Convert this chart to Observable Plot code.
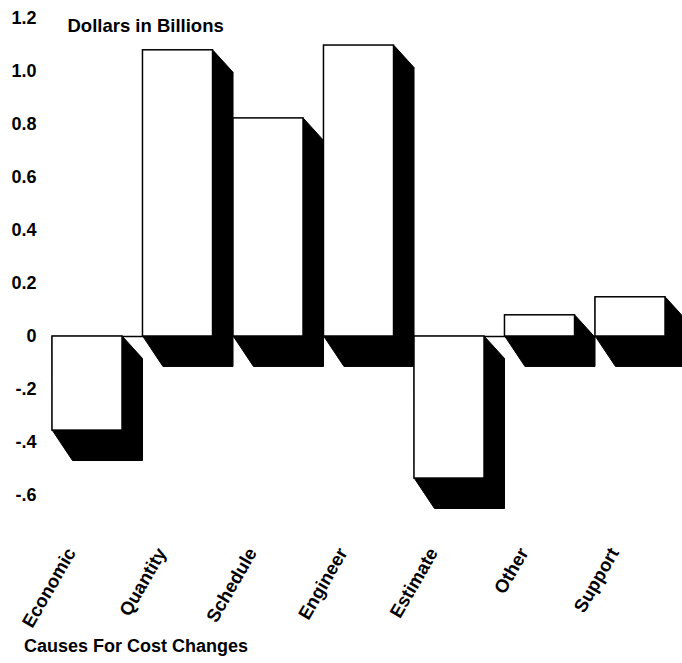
<!DOCTYPE html>
<html>
<head>
<meta charset="utf-8">
<script src="https://cdn.jsdelivr.net/npm/d3@7"></script>
<script src="https://cdn.jsdelivr.net/npm/@observablehq/plot@0.6"></script>
<style>
  html, body { margin: 0; padding: 0; background: white; }
  #caption {
    font-family: 'Liberation Sans', Arial, Helvetica, sans-serif;
    font-weight: bold; font-size: 18px; line-height: 20px;
    padding-left: 24px; margin-top: 6px; color: black;
  }
</style>
</head>
<body>
<div id="chart"></div>
<div id="caption">Causes For Cost Changes</div>
<script>
const categories = ["Economic", "Quantity", "Schedule", "Engineer", "Estimate", "Other", "Support"];
const values = [-0.355, 1.08, 0.823, 1.098, -0.536, 0.08, 0.148];
const yTicks = [1.2, 1.0, 0.8, 0.6, 0.4, 0.2, 0, -0.2, -0.4, -0.6];
const yTickLabels = ["1.2", "1.0", "0.8", "0.6", "0.4", "0.2", "0", "-.2", "-.4", "-.6"];
const yTitle = "Dollars in Billions";

// style constants (bar half width and 3D depth, in scale units)
const HW = 0.387;
const DX = 0.221, DY_TOP = 0.083, DY_BOT = 0.113;

const bars = categories.map((c, i) => ({cat: c, i, v: values[i]}));
const shadowPts = bars.flatMap(b => {
  const top = Math.max(b.v, 0), bot = Math.min(b.v, 0);
  const x0 = b.i - HW, x1 = b.i + HW;
  return [
    [x0, top], [x1, top], [x1 + DX, top - DY_TOP],
    [x1 + DX, bot - DY_BOT], [x0 + DX, bot - DY_BOT], [x0, bot]
  ].map(([x, y]) => ({cat: b.cat, x, y}));
});
const fmt = new Map(yTicks.map((t, i) => [t, yTickLabels[i]]));

const chart = Plot.plot({
  width: 682,
  height: 630,
  marginLeft: 52,
  marginRight: 0,
  marginTop: 18,
  marginBottom: 135,
  x: {type: "linear", domain: [0, 6], range: [87, 630], axis: null},
  y: {domain: [-0.6, 1.2], range: [495, 18], ticks: yTicks, tickFormat: d => fmt.get(d) ?? "", tickSize: 0, tickPadding: 16, label: null},
  style: {fontFamily: "'Liberation Sans', Arial, Helvetica, sans-serif", fontSize: "18px", fontWeight: "bold", color: "black", background: "white"},
  marks: [
    Plot.ruleY([0], {stroke: "black", strokeWidth: 1.5}),
    Plot.line(shadowPts, {x: "x", y: "y", z: "cat", curve: "linear-closed", fill: "black", stroke: "black", strokeWidth: 1}),
    Plot.rect(bars, {x1: d => d.i - HW, x2: d => d.i + HW, y1: d => 0, y2: "v", fill: "white", stroke: "black", strokeWidth: 1.5}),
    Plot.text(categories, {x: (d, i) => i, text: d => d, frameAnchor: "bottom", rotate: -60, textAnchor: "end", dx: -11, dy: 57, fontSize: 18.5}),
    Plot.text([yTitle], {text: d => d, frameAnchor: "top-left", textAnchor: "start", dx: 15, fontSize: 18.5})
  ]
});
document.getElementById("chart").appendChild(chart);
</script>
</body>
</html>
